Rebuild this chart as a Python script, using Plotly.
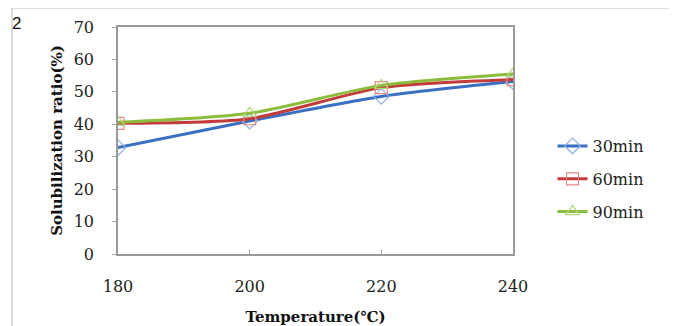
import plotly.graph_objects as go

temps = [180, 200, 220, 240]
series_names = ["30min", "60min", "90min"]
v30 = [32.8, 41.0, 48.6, 53.2]
v60 = [40.3, 41.7, 51.3, 53.8]
v90 = [40.6, 43.4, 52.0, 55.5]
y_ticks = [0, 10, 20, 30, 40, 50, 60, 70]
x_ticks = [180, 200, 220, 240]

line_colors = ["#3b6fc2", "#c23b3a", "#8cbc3c"]
marker_colors = ["#8fb0e6", "#e58a8a", "#b4d67c"]
symbols = ["diamond-open", "square-open", "triangle-up-open"]

fig = go.Figure()
for i, (name, vals) in enumerate(zip(series_names, [v30, v60, v90])):
    fig.add_trace(go.Scatter(
        x=temps, y=vals, name=name, mode="lines+markers",
        line=dict(color=line_colors[i], width=3, shape="spline", smoothing=0.7),
        marker=dict(symbol=symbols[i], size=12, color=marker_colors[i],
                    line=dict(color=marker_colors[i], width=1.2)),
        legendgroup=name,
    ))

# the page shows the figure with an 8px body offset
OFF = 8
W, H = 677 - OFF, 326 - OFF
L, T, PW, PH = 118 - OFF, 27 - OFF, 395, 227

serif = "DejaVu Serif"
fig.update_layout(
    width=W, height=H,
    margin=dict(l=L, r=W - L - PW, t=T, b=H - T - PH),
    paper_bgcolor="white", plot_bgcolor="white",
    showlegend=True,
    legend=dict(x=1.1, xanchor="left", y=0.33, yanchor="middle",
                font=dict(family=serif, size=16, color="#222"),
                tracegroupgap=9, traceorder="grouped",
                bgcolor="rgba(0,0,0,0)"),
    xaxis=dict(range=[180, 240], tickvals=x_ticks, ticks="inside", ticklen=5,
               tickcolor="#aaa", showline=True, linecolor="#999", linewidth=1.5,
               mirror=True, showgrid=False, zeroline=False, automargin=False,
               ticklabelstandoff=17,
               tickfont=dict(family=serif, size=16, color="#222"),
               title=dict(text="<b>Temperature(℃)</b>", standoff=19,
                          font=dict(family=serif, size=15, color="#111"))),
    yaxis=dict(range=[0, 70], tickvals=y_ticks, ticks="outside", ticklen=4,
               tickcolor="#aaa", showline=True, linecolor="#999", linewidth=1.5,
               mirror=True, showgrid=False, zeroline=False, automargin=False,
               ticklabelstandoff=15,
               tickfont=dict(family=serif, size=16, color="#222"),
               title=dict(text="<b>Solubilization ratio(%)</b>", standoff=7,
                          font=dict(family=serif, size=15, color="#111"))),
)

# outer frame of the figure panel
fig.add_shape(type="rect", xref="paper", yref="paper",
              x0=(12 - 118) / PW, x1=(700 - 118) / PW,
              y0=(254 - 360) / PH, y1=(254 - 8) / PH,
              line=dict(color="#bbb", width=1), layer="below")
fig.add_annotation(text="2", xref="paper", yref="paper",
                   x=(10 - 118) / PW, y=(254 - 12) / PH,
                   xanchor="left", yanchor="top", showarrow=False,
                   font=dict(family="Liberation Sans", size=17, color="#111"))

fig.write_html("out.html")
